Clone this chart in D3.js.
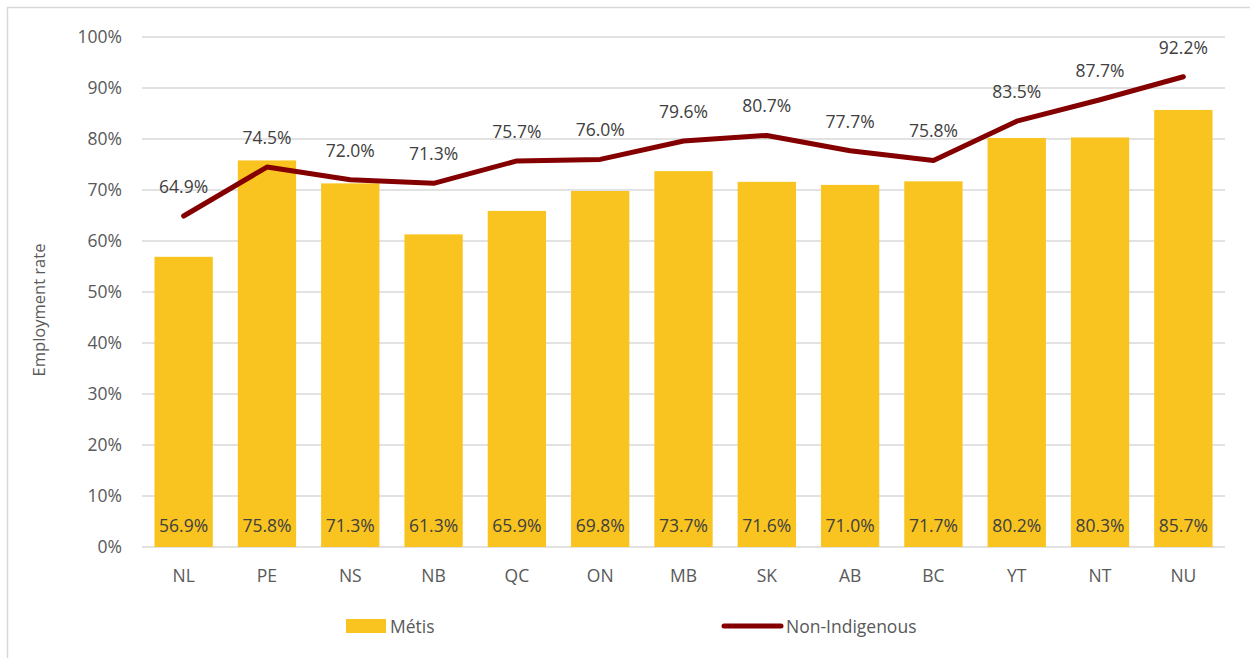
<!DOCTYPE html>
<html><head><meta charset="utf-8">
<script src="https://cdn.jsdelivr.net/npm/d3@7"></script>
<style>body{margin:0;background:#fff;}svg{display:block;}</style>
</head><body>
<svg id="chart" width="1250" height="658"></svg>
<script>
const categories = ["NL","PE","NS","NB","QC","ON","MB","SK","AB","BC","YT","NT","NU"];
const metis = [56.9,75.8,71.3,61.3,65.9,69.8,73.7,71.6,71.0,71.7,80.2,80.3,85.7];
const nonIndigenous = [64.9,74.5,72.0,71.3,75.7,76.0,79.6,80.7,77.7,75.8,83.5,87.7,92.2];
const yTicks = [0,10,20,30,40,50,60,70,80,90,100];
const seriesNames = ["Métis","Non-Indigenous"];

const svg = d3.select("#chart");
const font = "'Open Sans', sans-serif";
const textColor = "#595959";
const barColor = "#F9C41F";
const lineColor = "#840000";

// outer border (cropped on right/bottom)
svg.append("rect").attr("x",7.5).attr("y",7.5).attr("width",1260).attr("height",670)
  .attr("fill","none").attr("stroke","#d9d9d9").attr("stroke-width",1.5);

const plotLeft = 142, plotRight = 1225, plotTop = 37, plotBottom = 547;
const x = d3.scaleBand().domain(categories).range([plotLeft,plotRight]).paddingInner(0.3).paddingOuter(0.15);
const y = d3.scaleLinear().domain([0,100]).range([plotBottom,plotTop]);

// gridlines
svg.append("g").selectAll("line").data(yTicks).join("line")
  .attr("x1",plotLeft).attr("x2",plotRight)
  .attr("y1",d=>y(d)).attr("y2",d=>y(d))
  .attr("stroke","#d9d9d9").attr("stroke-width",1.5);

// y tick labels
svg.append("g").selectAll("text").data(yTicks).join("text")
  .attr("x",122).attr("y",d=>y(d)+6)
  .attr("text-anchor","end").attr("font-family",font).attr("font-size",17.5)
  .attr("fill",textColor).text(d=>d+"%");

// bars
svg.append("g").selectAll("rect").data(metis).join("rect")
  .attr("x",(d,i)=>x(categories[i])).attr("width",x.bandwidth())
  .attr("y",d=>y(d)).attr("height",d=>y(0)-y(d))
  .attr("fill",barColor);

// bar labels
svg.append("g").selectAll("text").data(metis).join("text")
  .attr("x",(d,i)=>x(categories[i])+x.bandwidth()/2).attr("y",532)
  .attr("text-anchor","middle").attr("font-family",font).attr("font-size",17.5)
  .attr("fill","#404040").text(d=>d.toFixed(1)+"%");

// line
const line = d3.line().x((d,i)=>x(categories[i])+x.bandwidth()/2).y(d=>y(d));
svg.append("path").datum(nonIndigenous).attr("d",line)
  .attr("fill","none").attr("stroke",lineColor).attr("stroke-width",5)
  .attr("stroke-linejoin","round").attr("stroke-linecap","round");

// line labels
svg.append("g").selectAll("text").data(nonIndigenous).join("text")
  .attr("x",(d,i)=>x(categories[i])+x.bandwidth()/2).attr("y",d=>y(d)-23)
  .attr("text-anchor","middle").attr("font-family",font).attr("font-size",17.5)
  .attr("fill","#404040").text(d=>d.toFixed(1)+"%");

// category labels
svg.append("g").selectAll("text").data(categories).join("text")
  .attr("x",d=>x(d)+x.bandwidth()/2).attr("y",582)
  .attr("text-anchor","middle").attr("font-family",font).attr("font-size",17.5)
  .attr("fill",textColor).text(d=>d);

// axis title
svg.append("text").attr("transform","translate(45,310) rotate(-90)")
  .attr("text-anchor","middle").attr("font-family",font).attr("font-size",16.5)
  .attr("fill",textColor).text("Employment rate");

// legend
const lg = svg.append("g");
lg.append("rect").attr("x",346).attr("y",619).attr("width",40).attr("height",14).attr("fill",barColor);
lg.append("text").attr("x",390).attr("y",633).attr("font-family",font).attr("font-size",17.5)
  .attr("fill",textColor).text(seriesNames[0]);
lg.append("line").attr("x1",724).attr("x2",781).attr("y1",626).attr("y2",626)
  .attr("stroke",lineColor).attr("stroke-width",5).attr("stroke-linecap","round");
lg.append("text").attr("x",786).attr("y",633).attr("font-family",font).attr("font-size",17.5)
  .attr("fill",textColor).text(seriesNames[1]);
</script>
</body></html>
